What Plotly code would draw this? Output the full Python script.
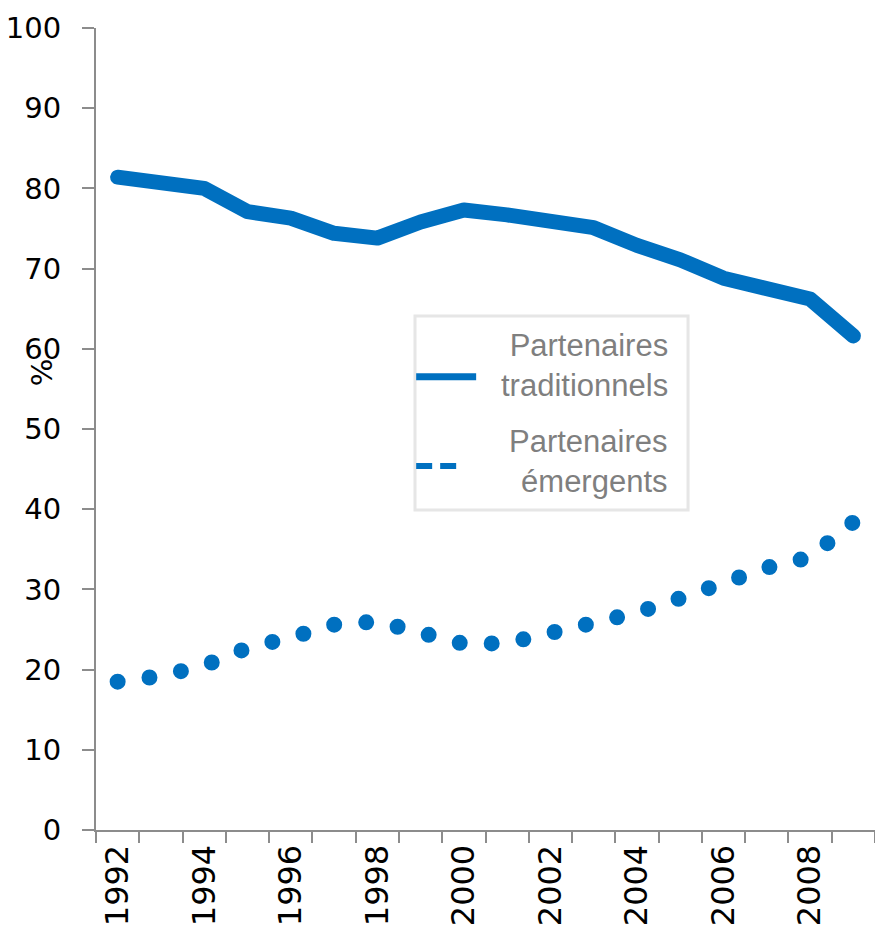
import plotly.graph_objects as go

annees = list(range(1992, 2010))
traditionnels = [81.4, 80.8, 80.0, 77.1, 76.3, 74.4, 73.8, 75.8, 77.3, 76.7,
                 75.8, 75.1, 72.9, 71.1, 68.8, 67.5, 66.2, 61.6]
emergents = [18.5, 19.2, 20.5, 22.7, 24.0, 25.6, 26.0, 24.4, 23.2, 23.3,
             24.5, 25.4, 27.1, 28.9, 31.0, 32.7, 34.0, 38.4]
ticks_annees = [1992, 1994, 1996, 1998, 2000, 2002, 2004, 2006, 2008]

BLEU = "#0070C0"
GRIS_AXE = "#8c8c8c"
GRIS_TEXTE = "#7f7f7f"
POLICE = "Liberation Sans, Arial, sans-serif"
POLICE_TICKS = "DejaVu Sans, sans-serif"

fig = go.Figure()
fig.add_trace(go.Scatter(
    x=annees, y=traditionnels, mode="lines", name="Partenaires traditionnels",
    line=dict(color=BLEU, width=15), showlegend=False,
))
# ligne pointillée : points ronds grâce au linecap round (voir css plus bas)
fig.add_trace(go.Scatter(
    x=annees, y=emergents, mode="lines", name="Partenaires émergents",
    line=dict(color=BLEU, width=16, dash="0px,32.1px"), showlegend=False,
))

# légende faite à la main (texte aligné à droite)
fig.add_shape(type="rect", xref="paper", yref="paper", x0=0.4095, x1=0.760, y0=0.399, y1=0.641,
              line=dict(color="#e6e6e6", width=3), fillcolor="white", layer="below")
fig.add_shape(type="line", xref="paper", yref="paper", x0=0.411, x1=0.488, y0=0.565, y1=0.565,
              line=dict(color=BLEU, width=7))
fig.add_shape(type="line", xref="paper", yref="paper", x0=0.411, x1=0.465, y0=0.454, y1=0.454,
              line=dict(color=BLEU, width=6, dash="16px,8px"))
fig.add_annotation(xref="paper", yref="paper", x=0.737, y=0.5786, xanchor="right", yanchor="middle",
                   align="right", showarrow=False, text="Partenaires<br>traditionnels",
                   font=dict(family=POLICE, size=31, color=GRIS_TEXTE))
fig.add_annotation(xref="paper", yref="paper", x=0.737, y=0.460, xanchor="right", yanchor="middle",
                   align="right", showarrow=False, text="Partenaires<br>émergents",
                   font=dict(family=POLICE, size=31, color=GRIS_TEXTE))

# titre de l'axe y
fig.add_annotation(xref="paper", yref="paper", x=-0.069, y=0.571, xanchor="center", yanchor="middle",
                   showarrow=False, text="%", textangle=-90,
                   font=dict(family=POLICE_TICKS, size=29, color="black"))

fig.update_layout(
    width=875, height=930,
    margin=dict(l=96, r=0, t=28, b=100),
    plot_bgcolor="white", paper_bgcolor="white",
    showlegend=False,
)
fig.update_xaxes(
    range=[1991.5, 2009.5], tickvals=ticks_annees, ticktext=[str(a) for a in ticks_annees],
    tickangle=-90, ticks="", showgrid=False, zeroline=False,
    showline=True, linecolor=GRIS_AXE, linewidth=2,
    tickfont=dict(family=POLICE_TICKS, size=32, color="black"),
    minor=dict(ticks="outside", tick0=1991.5, dtick=1, ticklen=11, tickcolor=GRIS_AXE, tickwidth=2, showgrid=False),
)
fig.update_yaxes(
    range=[0, 100], dtick=10, ticks="outside", ticklen=12, tickcolor=GRIS_AXE, tickwidth=2,
    ticklabelstandoff=15,
    showgrid=False, zeroline=False, showline=True, linecolor=GRIS_AXE, linewidth=2,
    tickfont=dict(family=POLICE_TICKS, size=29, color="black"),
)

css = ("var s=document.createElement('style');"
       "s.textContent='body{margin:0;}.scatterlayer .js-line{stroke-linecap:round;stroke-linejoin:round;}';"
       "document.head.appendChild(s);")
fig.write_html("out.html", post_script=css, config={"displayModeBar": False})
